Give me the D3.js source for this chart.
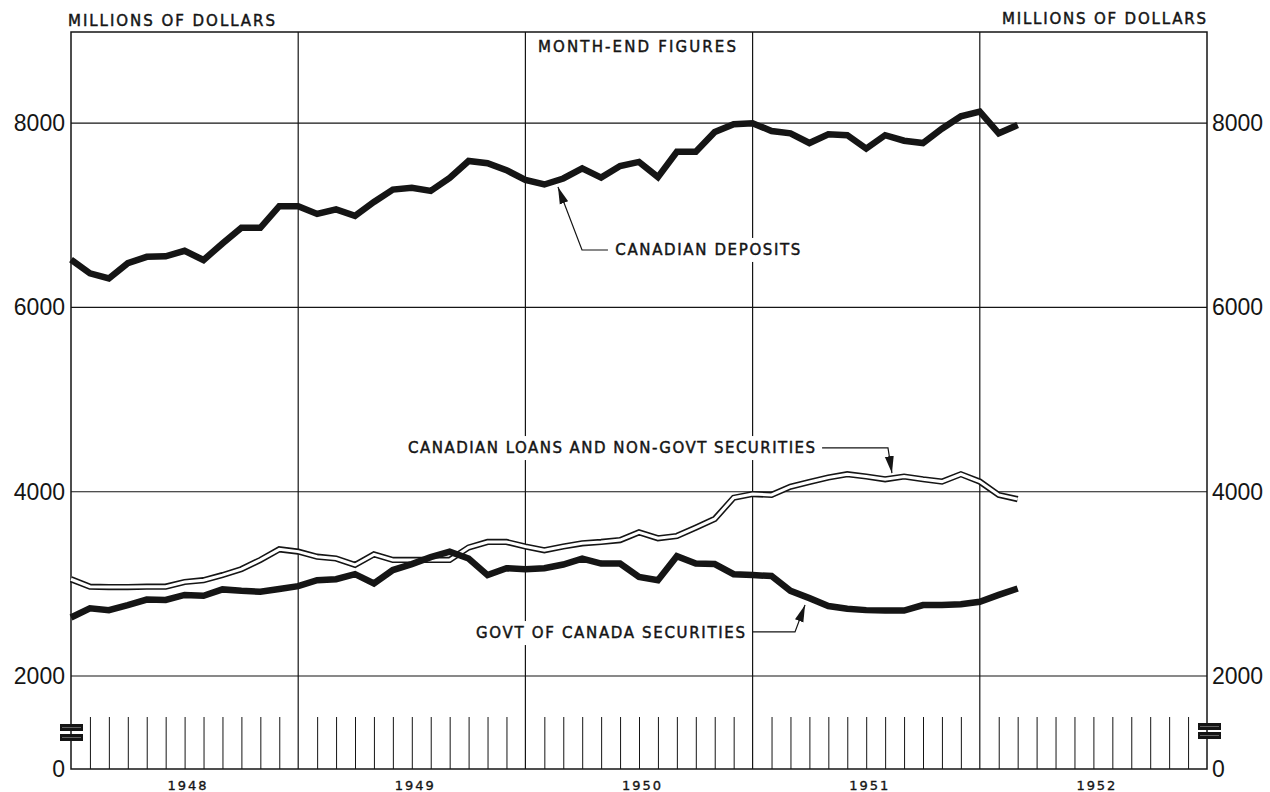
<!DOCTYPE html>
<html>
<head>
<meta charset="utf-8">
<script src="https://cdn.jsdelivr.net/npm/d3@7"></script>
<style>
    body { margin: 0; background: #fff; }
    svg { display: block; }
    .lbl { font-family: "DejaVu Sans", sans-serif; font-size: 15px; fill: #151515; stroke: #151515; stroke-width: 0.45px; }
    .num { font-family: "Liberation Sans", Arial, sans-serif; font-size: 23px; fill: #151515; }
    .yr { font-family: "DejaVu Sans", sans-serif; font-size: 13px; fill: #151515; stroke: #151515; stroke-width: 0.35px; }
</style>
</head>
<body>
<div id="wrapper"></div>
<script>
// month-end values, millions of dollars, Dec 1947 .. Feb 1952
const years = ["1948", "1949", "1950", "1951", "1952"];
const deposits = [6520, 6370, 6315, 6480, 6550, 6555, 6615, 6515, 6695, 6865, 6865, 7100, 7100,
    7015, 7065, 6995, 7145, 7280, 7300, 7265, 7405, 7590, 7565, 7490, 7385,
    7335, 7400, 7510, 7410, 7535, 7580, 7415, 7690, 7690, 7905, 7990, 8000,
    7915, 7890, 7785, 7880, 7870, 7725, 7870, 7810, 7785, 7940, 8075, 8125,
    7890, 7980];
const govtSecurities = [2635, 2735, 2715, 2770, 2830, 2825, 2880, 2870, 2940, 2925, 2915, 2945, 2975,
    3040, 3050, 3105, 3005, 3150, 3215, 3290, 3350, 3275, 3095, 3170, 3160,
    3170, 3210, 3275, 3220, 3220, 3075, 3040, 3300, 3220, 3215, 3105, 3095,
    3085, 2925, 2845, 2760, 2730, 2715, 2710, 2710, 2770, 2770, 2780, 2805,
    2880, 2950];
const loansNonGovt = [3050, 2970, 2965, 2965, 2970, 2970, 3020, 3040, 3095, 3160, 3260, 3375, 3350,
    3295, 3275, 3205, 3320, 3260, 3260, 3260, 3260, 3395, 3455, 3455, 3405,
    3365, 3405, 3440, 3455, 3475, 3560, 3495, 3520, 3610, 3705, 3935, 3975,
    3965, 4055, 4105, 4155, 4190, 4165, 4135, 4165, 4135, 4110, 4190, 4110,
    3965, 3920];
const yTicks = [0, 2000, 4000, 6000, 8000];
const gridValues = [2000, 4000, 6000, 8000];

function buildPlot() {
    const dimension = { width: 1270, height: 792 };
    const ink = "#151515";

    const svg = d3.select("#wrapper").append("svg")
        .attr("width", dimension.width)
        .attr("height", dimension.height);

    // month index 0 = start of 1948, 60 = end of 1952
    const xScaler = d3.scaleLinear().domain([0, 60]).range([71, 1207]);
    // broken axis: 0..2000 squeezed, 2000..top linear
    const yScaler = d3.scaleLinear().domain([0, 2000, 8990]).range([769, 676, 32]);

    const x0 = xScaler(0), x1 = xScaler(60);
    const yTop = yScaler(8990), yBot = yScaler(0);

    // grid
    const grid = svg.append("g").attr("stroke", ink).attr("stroke-width", 1.2);
    grid.selectAll("line.h").data(gridValues).join("line")
        .attr("x1", x0).attr("x2", x1)
        .attr("y1", d => yScaler(d)).attr("y2", d => yScaler(d));
    grid.selectAll("line.v").data([12, 24, 36, 48]).join("line")
        .attr("x1", d => xScaler(d)).attr("x2", d => xScaler(d))
        .attr("y1", yTop).attr("y2", yBot);
    svg.append("rect")
        .attr("x", x0).attr("y", yTop)
        .attr("width", x1 - x0).attr("height", yBot - yTop)
        .attr("fill", "none").attr("stroke", ink).attr("stroke-width", 1.5);

    // monthly ticks in the broken zone
    const monthTicks = d3.range(1, 60).filter(m => m % 12 !== 0);
    const tickAxis = svg.append("g")
        .attr("transform", `translate(0,${yBot})`)
        .call(d3.axisTop(xScaler).tickValues(monthTicks).tickSize(52).tickFormat(""));
    tickAxis.select(".domain").remove();
    tickAxis.selectAll("line").attr("stroke", ink).attr("stroke-width", 1);

    // y axes
    const leftAxis = svg.append("g")
        .attr("transform", `translate(${x0 - 6},0)`)
        .call(d3.axisLeft(yScaler).tickValues(yTicks).tickSize(0).tickPadding(0).tickFormat(d3.format("d")));
    const rightAxis = svg.append("g")
        .attr("transform", `translate(${x1 + 5},0)`)
        .call(d3.axisRight(yScaler).tickValues(yTicks).tickSize(0).tickPadding(0).tickFormat(d3.format("d")));
    [leftAxis, rightAxis].forEach(a => {
        a.select(".domain").remove();
        a.attr("font-size", null).attr("font-family", null);
        a.selectAll("text").attr("class", "num");
    });

    // year labels
    const xAxis = svg.append("g")
        .attr("transform", `translate(2,${yBot})`)
        .call(d3.axisBottom(xScaler).tickValues([6, 18, 30, 42, 54]).tickSize(0).tickPadding(12)
            .tickFormat((d, i) => years[i]));
    xAxis.select(".domain").remove();
    xAxis.attr("font-size", null).attr("font-family", null);
    xAxis.selectAll("text").attr("class", "yr").attr("textLength", 39).attr("lengthAdjust", "spacing");

    // axis break marks
    const breaks = svg.append("g");
    [[x0 - 11, 724], [x0 - 11, 734], [x1 - 9, 723], [x1 - 9, 732]].forEach(([bx, by]) => {
        breaks.append("rect").attr("x", bx).attr("y", by).attr("width", 23).attr("height", 7).attr("fill", ink);
        breaks.append("line").attr("x1", bx + 2).attr("x2", bx + 21).attr("y1", by + 3.5).attr("y2", by + 3.5)
            .attr("stroke", "#777").attr("stroke-width", 0.8);
    });

    // headings
    svg.append("text").attr("class", "lbl").attr("x", 68).attr("y", 26)
        .attr("textLength", 207).attr("lengthAdjust", "spacing").text("MILLIONS OF DOLLARS");
    svg.append("text").attr("class", "lbl").attr("x", 1002).attr("y", 24)
        .attr("textLength", 204).attr("lengthAdjust", "spacing").text("MILLIONS OF DOLLARS");

    // labels with white backing over the grid
    function label(txt, xPos, yPos, anchor, len) {
        const g = svg.append("g");
        const t = g.append("text").attr("class", "lbl")
            .attr("x", xPos).attr("y", yPos).attr("text-anchor", anchor)
            .attr("textLength", len).attr("lengthAdjust", "spacing").text(txt);
        const b = t.node().getBBox();
        g.insert("rect", "text")
            .attr("x", b.x - 5).attr("y", b.y - 3)
            .attr("width", b.width + 10).attr("height", b.height + 6)
            .attr("fill", "#fff");
    }
    label("MONTH-END FIGURES", 637, 52, "middle", 198);
    label("CANADIAN DEPOSITS", xScaler(28.75), yScaler(6570), "start", 185);
    label("CANADIAN LOANS AND NON-GOVT SECURITIES", xScaler(39.3), yScaler(4420), "end", 407);
    label("GOVT OF CANADA SECURITIES", xScaler(35.6), yScaler(2412), "end", 269);

    // leader arrows (month, value)
    svg.append("defs").append("marker")
        .attr("id", "arrow")
        .attr("viewBox", "0 -5 17 10")
        .attr("refX", 17).attr("refY", 0)
        .attr("markerWidth", 17).attr("markerHeight", 10)
        .attr("markerUnits", "userSpaceOnUse")
        .attr("orient", "auto")
        .append("path").attr("d", "M0,-4.5L17,0L0,4.5Z").attr("fill", ink);

    const leaders = [
        [[28.36, 6624], [26.99, 6624], [25.72, 7308]],
        [[39.67, 4475], [43.15, 4475], [43.36, 4203]],
        [[36.02, 2478], [38.24, 2478], [38.77, 2771]]
    ];
    const leaderLine = d3.line().x(d => xScaler(d[0])).y(d => yScaler(d[1]));
    svg.append("g").selectAll("path").data(leaders).join("path")
        .attr("d", leaderLine)
        .attr("fill", "none").attr("stroke", ink).attr("stroke-width", 1.2)
        .attr("marker-end", "url(#arrow)");

    // series
    const seriesLine = d3.line().x((d, i) => xScaler(i)).y(d => yScaler(d));
    const lines = svg.append("g").attr("fill", "none").attr("stroke-linejoin", "miter").attr("stroke-miterlimit", 3);
    lines.append("path").datum(loansNonGovt).attr("d", seriesLine)
        .attr("stroke", ink).attr("stroke-width", 6.2);
    lines.append("path").datum(loansNonGovt).attr("d", seriesLine)
        .attr("stroke", "#fff").attr("stroke-width", 3);
    lines.append("path").datum(govtSecurities).attr("d", seriesLine)
        .attr("stroke", ink).attr("stroke-width", 6.5);
    lines.append("path").datum(deposits).attr("d", seriesLine)
        .attr("stroke", ink).attr("stroke-width", 6.5);
}

buildPlot();
</script>
</body>
</html>
